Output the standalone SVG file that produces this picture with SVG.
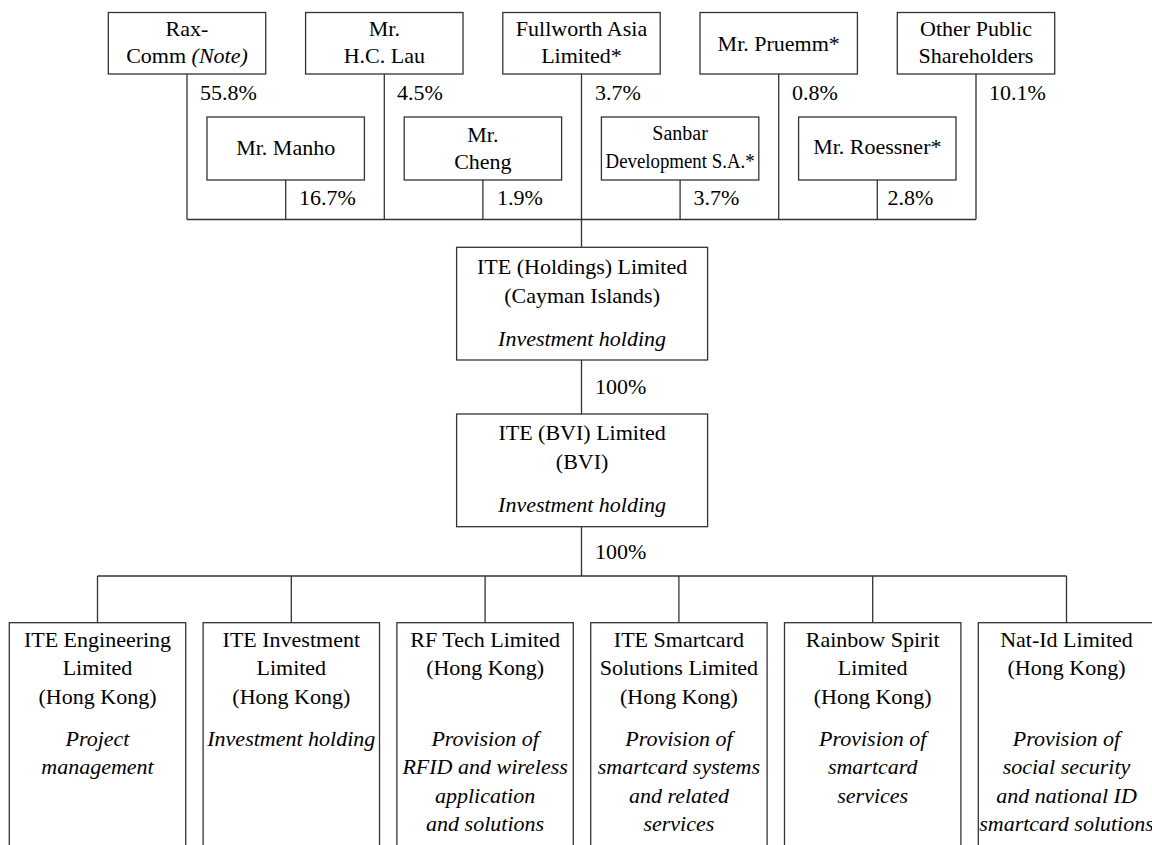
<svg xmlns="http://www.w3.org/2000/svg" width="1152" height="845" viewBox="0 0 1152 845">
<style>
  .box { fill: #ffffff; stroke: #333333; stroke-width: 1.3; }
  .ln { fill: none; stroke: #333333; stroke-width: 1.3; }
  text { font-family: "Liberation Serif", "Times New Roman", serif; font-size: 22px; fill: #000000; }
  .c { text-anchor: middle; }
  .i { font-style: italic; }
  .sm { font-size: 20px; }
</style>
<rect x="0" y="0" width="1152" height="845" fill="#ffffff"/>

<g id="connectors">
  <path class="ln" d="M187,74 V219.5 M384.3,74 V219.5 M581.5,74 V247.3 M778.7,74 V219.5 M976,74 V219.5"/>
  <path class="ln" d="M285.7,180 V219.5 M482.9,180 V219.5 M680.1,180 V219.5 M877.3,180 V219.5"/>
  <path class="ln" d="M187,219.5 H976"/>
  <path class="ln" d="M581.5,360 V414"/>
  <path class="ln" d="M581.5,526.7 V576"/>
  <path class="ln" d="M97.5,576 H1066.5"/>
  <path class="ln" d="M97.5,576 V622.7 M291.3,576 V622.7 M485.1,576 V622.7 M678.9,576 V622.7 M872.7,576 V622.7 M1066.5,576 V622.7"/>
  <text x="200" y="100">55.8%</text>
  <text x="397" y="100">4.5%</text>
  <text x="595" y="100">3.7%</text>
  <text x="792" y="100">0.8%</text>
  <text x="989" y="100">10.1%</text>
  <text x="299" y="204.5">16.7%</text>
  <text x="497" y="204.5">1.9%</text>
  <text x="693.5" y="204.5">3.7%</text>
  <text x="887.5" y="204.5">2.8%</text>
  <text x="595" y="394">100%</text>
  <text x="595" y="559.3">100%</text>
</g>

<g id="rax-comm">
  <rect class="box" x="108.3" y="12.5" width="157.4" height="61.5"/>
  <text class="c" x="187" y="35.7">Rax-</text>
  <text class="c" x="187" y="63.3">Comm <tspan class="i">(Note)</tspan></text>
</g>
<g id="hc-lau">
  <rect class="box" x="305.6" y="12.5" width="157.4" height="61.5"/>
  <text class="c" x="384.3" y="35.7">Mr.</text>
  <text class="c" x="384.3" y="63.3">H.C. Lau</text>
</g>
<g id="fullworth">
  <rect class="box" x="502.8" y="12.5" width="157.4" height="61.5"/>
  <text class="c" x="581.5" y="35.7">Fullworth Asia</text>
  <text class="c" x="581.5" y="63.3">Limited*</text>
</g>
<g id="pruemm">
  <rect class="box" x="700" y="12.5" width="157.4" height="61.5"/>
  <text class="c" x="778.7" y="50.5">Mr. Pruemm*</text>
</g>
<g id="other-public">
  <rect class="box" x="897.3" y="12.5" width="157.4" height="61.5"/>
  <text class="c" x="976" y="35.7">Other Public</text>
  <text class="c" x="976" y="63.3">Shareholders</text>
</g>

<g id="manho">
  <rect class="box" x="207" y="117" width="157.4" height="63"/>
  <text class="c" x="285.7" y="154.5">Mr. Manho</text>
</g>
<g id="cheng">
  <rect class="box" x="404.2" y="117" width="157.4" height="63"/>
  <text class="c" x="482.9" y="141.5">Mr.</text>
  <text class="c" x="482.9" y="169">Cheng</text>
</g>
<g id="sanbar">
  <rect class="box" x="601.4" y="117" width="157.4" height="63"/>
  <text class="c sm" x="680.1" y="140">Sanbar</text>
  <text class="c sm" x="680.1" y="168.3" textLength="149" lengthAdjust="spacingAndGlyphs">Development S.A.*</text>
</g>
<g id="roessner">
  <rect class="box" x="798.6" y="117" width="157.4" height="63"/>
  <text class="c" x="877.3" y="154">Mr. Roessner*</text>
</g>

<g id="ite-holdings">
  <rect class="box" x="456.6" y="247.3" width="251" height="112.7"/>
  <text class="c" x="582.1" y="274">ITE (Holdings) Limited</text>
  <text class="c" x="582.1" y="302.7">(Cayman Islands)</text>
  <text class="c i" x="582.1" y="345.7">Investment holding</text>
</g>
<g id="ite-bvi">
  <rect class="box" x="456.6" y="414" width="251" height="112.7"/>
  <text class="c" x="582.1" y="440">ITE (BVI) Limited</text>
  <text class="c" x="582.1" y="469.3">(BVI)</text>
  <text class="c i" x="582.1" y="511.7">Investment holding</text>
</g>

<g id="ite-engineering">
  <rect class="box" x="9.3" y="622.7" width="176.4" height="240"/>
  <text class="c" x="97.5" y="647.3">ITE Engineering</text>
  <text class="c" x="97.5" y="675">Limited</text>
  <text class="c" x="97.5" y="704">(Hong Kong)</text>
  <text class="c i" x="97.5" y="745.7">Project</text>
  <text class="c i" x="97.5" y="774">management</text>
</g>
<g id="ite-investment">
  <rect class="box" x="203.1" y="622.7" width="176.4" height="240"/>
  <text class="c" x="291.3" y="647.3">ITE Investment</text>
  <text class="c" x="291.3" y="675">Limited</text>
  <text class="c" x="291.3" y="704">(Hong Kong)</text>
  <text class="c i" x="291.3" y="745.7">Investment holding</text>
</g>
<g id="rf-tech">
  <rect class="box" x="396.9" y="622.7" width="176.4" height="240"/>
  <text class="c" x="485.1" y="647.3">RF Tech Limited</text>
  <text class="c" x="485.1" y="675">(Hong Kong)</text>
  <text class="c i" x="485.1" y="745.7">Provision of</text>
  <text class="c i" x="485.1" y="774">RFID and wireless</text>
  <text class="c i" x="485.1" y="802.7">application</text>
  <text class="c i" x="485.1" y="831">and solutions</text>
</g>
<g id="ite-smartcard">
  <rect class="box" x="590.7" y="622.7" width="176.4" height="240"/>
  <text class="c" x="678.9" y="647.3">ITE Smartcard</text>
  <text class="c" x="678.9" y="675">Solutions Limited</text>
  <text class="c" x="678.9" y="704">(Hong Kong)</text>
  <text class="c i" x="678.9" y="745.7">Provision of</text>
  <text class="c i" x="678.9" y="774">smartcard systems</text>
  <text class="c i" x="678.9" y="802.7">and related</text>
  <text class="c i" x="678.9" y="831">services</text>
</g>
<g id="rainbow-spirit">
  <rect class="box" x="784.5" y="622.7" width="176.4" height="240"/>
  <text class="c" x="872.7" y="647.3">Rainbow Spirit</text>
  <text class="c" x="872.7" y="675">Limited</text>
  <text class="c" x="872.7" y="704">(Hong Kong)</text>
  <text class="c i" x="872.7" y="745.7">Provision of</text>
  <text class="c i" x="872.7" y="774">smartcard</text>
  <text class="c i" x="872.7" y="802.7">services</text>
</g>
<g id="nat-id">
  <rect class="box" x="978.3" y="622.7" width="176.4" height="240"/>
  <text class="c" x="1066.5" y="647.3">Nat-Id Limited</text>
  <text class="c" x="1066.5" y="675">(Hong Kong)</text>
  <text class="c i" x="1066.5" y="745.7">Provision of</text>
  <text class="c i" x="1066.5" y="774">social security</text>
  <text class="c i" x="1066.5" y="802.7">and national ID</text>
  <text class="c i" x="1066.5" y="831">smartcard solutions</text>
</g>
</svg>
